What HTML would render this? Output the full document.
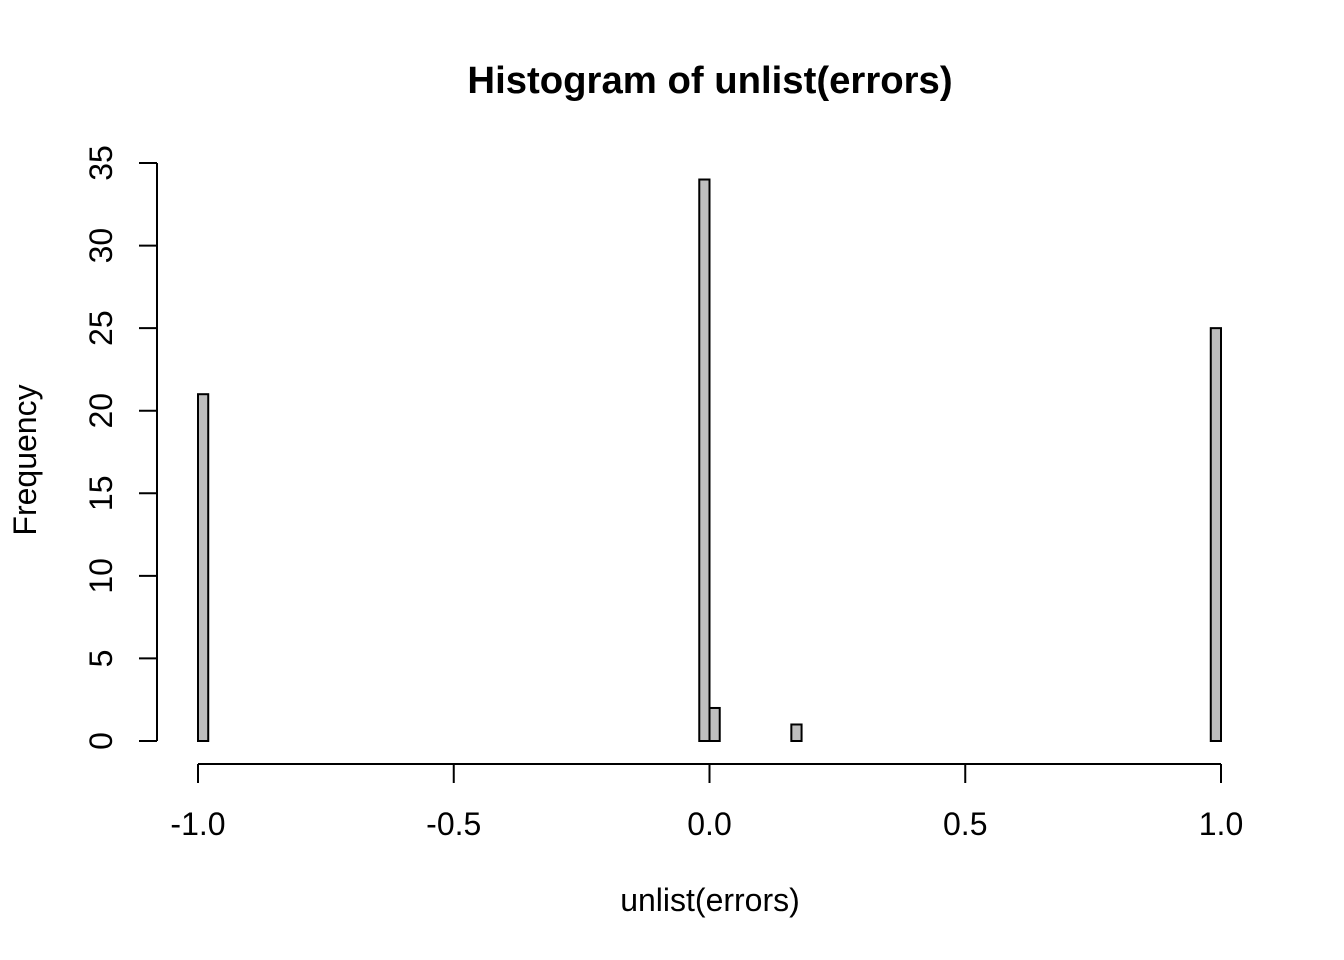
<!DOCTYPE html>
<html><head><meta charset="utf-8"><style>
html,body{margin:0;padding:0;background:#fff;}
svg{display:block;font-family:"Liberation Sans",Arial,sans-serif;}
</style></head><body>
<svg id="chart" width="1344" height="960" viewBox="0 0 1344 960">
<rect width="1344" height="960" fill="#fff"/>
<text x="710" y="93" font-size="38.3" font-weight="bold" text-anchor="middle">Histogram of unlist(errors)</text>
<text x="710" y="911" font-size="32" text-anchor="middle">unlist(errors)</text>
<text transform="translate(36,460) rotate(-90)" font-size="32" text-anchor="middle">Frequency</text>
<g id="bars"></g>
<g id="xaxis"></g>
<g id="yaxis"></g>
</svg>
<script>
const binStart = -1.0;
const binWidth = 0.02;
const binCounts = new Array(100).fill(0);
const nonZeroBins = [0, 49, 50, 58, 99];
const nonZeroCounts = [21, 34, 2, 1, 25];
const xTicks = [-1.0, -0.5, 0.0, 0.5, 1.0];
const xTickLabels = ["-1.0", "-0.5", "0.0", "0.5", "1.0"];
const yTicks = [0, 5, 10, 15, 20, 25, 30, 35];
const yTickLabels = ["0", "5", "10", "15", "20", "25", "30", "35"];
nonZeroBins.forEach((b, i) => { binCounts[b] = nonZeroCounts[i]; });

const NS = "http://www.w3.org/2000/svg";
const xs = v => 198 + (v + 1) / 2 * (1221 - 198);
const ys = v => 741 - v / 35 * (741 - 163);
function mk(tag, attrs, parent) {
  const e = document.createElementNS(NS, tag);
  for (const k in attrs) e.setAttribute(k, attrs[k]);
  parent.appendChild(e);
  return e;
}
const bars = document.getElementById('bars');
binCounts.forEach((c, i) => {
  const x0 = xs(binStart + i * binWidth), x1 = xs(binStart + (i + 1) * binWidth);
  const r = mk('rect', {x: x0, y: ys(c), width: x1 - x0, height: ys(0) - ys(c), fill: '#bebebe', stroke: '#000', 'stroke-width': 2}, bars);
  
  
});
const xa = document.getElementById('xaxis');
mk('line', {x1: xs(xTicks[0]), x2: xs(xTicks[xTicks.length - 1]), y1: 764, y2: 764, stroke: '#000', 'stroke-width': 2}, xa);
xTicks.forEach((t, i) => {
  mk('line', {x1: xs(t), x2: xs(t), y1: 764, y2: 783, stroke: '#000', 'stroke-width': 2}, xa);
  const tx = mk('text', {x: xs(t), y: 835, 'font-size': 32, 'text-anchor': 'middle'}, xa);
  tx.textContent = xTickLabels[i];
  
  
});
const ya = document.getElementById('yaxis');
mk('line', {x1: 157, x2: 157, y1: ys(yTicks[0]), y2: ys(yTicks[yTicks.length - 1]), stroke: '#000', 'stroke-width': 2}, ya);
yTicks.forEach((t, i) => {
  mk('line', {x1: 139, x2: 157, y1: ys(t), y2: ys(t), stroke: '#000', 'stroke-width': 2}, ya);
  const tx = mk('text', {transform: 'translate(112,' + ys(t) + ') rotate(-90)', 'font-size': 32, 'text-anchor': 'middle'}, ya);
  tx.textContent = yTickLabels[i];
  
  
});
</script>
</body></html>
